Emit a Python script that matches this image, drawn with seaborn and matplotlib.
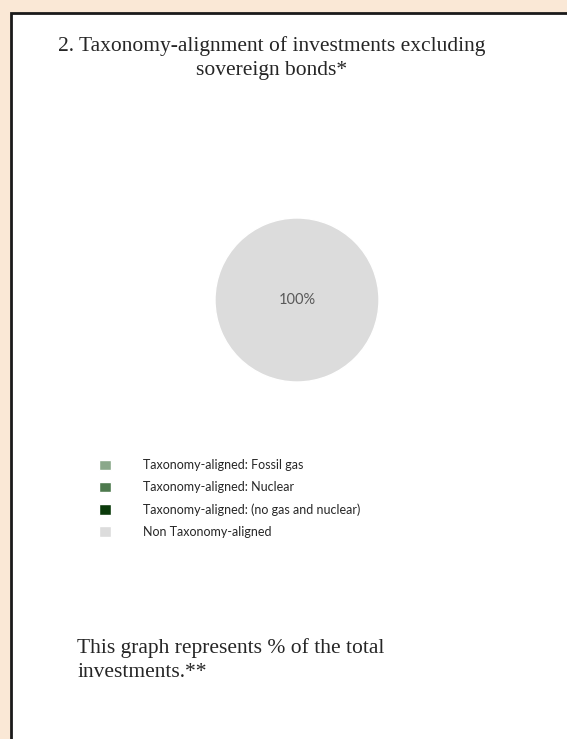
import matplotlib
matplotlib.use("Agg")
import matplotlib.pyplot as plt
import seaborn as sns
from matplotlib.patches import Rectangle

categories = ["Taxonomy-aligned: Fossil gas", "Taxonomy-aligned: Nuclear",
              "Taxonomy-aligned: (no gas and nuclear)", "Non Taxonomy-aligned"]
shares = [0, 0, 0, 100]
colors = ["#8aa88a", "#4e7a4e", "#0a3a0a", "#dcdcdc"]

title = "2. Taxonomy-alignment of investments excluding\nsovereign bonds*"
note = "This graph represents % of the total\ninvestments.**"

sns.set_style("white")
plt.rcParams['font.family'] = ['Lato', 'DejaVu Sans']

W, H = 567, 739
fig = plt.figure(figsize=(W / 100, H / 100), dpi=100)
fig.patch.set_facecolor("#fae8d6")

# white panel with dark frame, running off the right and bottom edges
fig.patches.append(Rectangle((11 / W, -0.05), 1.0, 1 - 13 / H + 0.05,
                             transform=fig.transFigure, facecolor="white",
                             edgecolor="#1a1a1a", linewidth=2, zorder=-10))

fig.text(272 / W, 1 - 58 / H, title, ha="center", va="center",
         family="Liberation Serif", fontsize=15.5, linespacing=1.4)

# pie
r = 82
ax = fig.add_axes([(297 - r) / W, 1 - (300 + r) / H, 2 * r / W, 2 * r / H])
wedges, texts, autotexts = ax.pie(
    shares, colors=colors, startangle=90, counterclock=False,
    autopct=lambda p: f"{p:.0f}%" if p > 0 else "", pctdistance=0,
    textprops=dict(color="#595959", fontsize=10.5))
ax.set_xlim(-1, 1)
ax.set_ylim(-1, 1)
ax.set_aspect("equal")

leg = fig.legend(wedges, categories, loc="upper left",
                 bbox_to_anchor=(88 / W, 1 - 448 / H), frameon=False,
                 fontsize=9, handlelength=0.9, handleheight=0.9,
                 handletextpad=2.6, labelspacing=0.8)
for t in leg.get_texts():
    t.set_color("#262626")

fig.text(77 / W, 1 - 660 / H, note, ha="left", va="center",
         family="Liberation Serif", fontsize=15.5, linespacing=1.3)

fig.savefig("out.png", dpi=100, facecolor=fig.get_facecolor())
